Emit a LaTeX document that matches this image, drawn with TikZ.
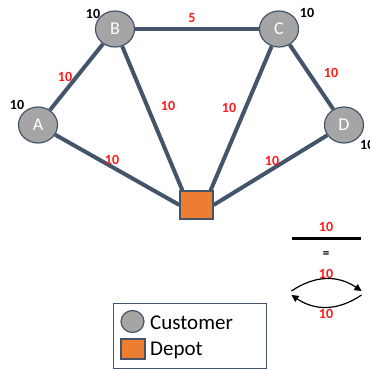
\documentclass[tikz,border=0pt]{standalone}
\usepackage{fontspec}
\setmainfont{Carlito}
\usetikzlibrary{shapes.geometric,arrows.meta}
\definecolor{edgec}{HTML}{44546A}
\definecolor{custc}{HTML}{A5A5A5}
\definecolor{depc}{HTML}{ED7D31}
\definecolor{labred}{HTML}{FF1A1A}
\begin{document}
\begin{tikzpicture}[x=1pt,y=-1pt,
 cust/.style={ellipse, draw=edgec, line width=1.2pt, fill=custc, minimum width=39pt, minimum height=36pt, inner sep=0pt, text=white, font=\fontsize{18}{18}\selectfont},
 dep/.style={rectangle, draw=edgec, line width=1.2pt, fill=depc, minimum width=33pt, minimum height=28pt, inner sep=0pt},
 road/.style={draw=edgec, line width=4pt},
 dem/.style={font=\bfseries\fontsize{14}{14}\selectfont, text=black, inner sep=0pt},
 cost/.style={font=\bfseries\fontsize{14}{14}\selectfont, text=labred, inner sep=0pt},
 legtext/.style={font=\fontsize{21}{21}\selectfont, anchor=west, inner sep=0pt},
 arc/.style={draw=black, line width=1.2pt, -{Triangle[length=7pt,width=7pt]}},
]
\useasboundingbox (0,0) rectangle (369,369);
% nodes
\node[cust] (A) at (38,125) {A};
\node[cust] (B) at (115,29) {B};
\node[cust] (C) at (279,29) {C};
\node[cust] (D) at (344,125) {D};
\node[dep] (S) at (196.5,205) {};
% roads
\draw[road] (A) -- (B);
\draw[road] (B) -- (C);
\draw[road] (C) -- (D);
\draw[road] (A) -- (S.west);
\draw[road] (B) -- ([xshift=3pt]S.north west);
\draw[road] (C) -- ([xshift=-3pt]S.north east);
\draw[road] (D) -- (S.east);
% demands
\node[dem] (dA) at (17,105) {10};
\node[dem] (dB) at (93,14) {10};
\node[dem] (dC) at (307,13) {10};
\node[dem, anchor=west] (dD) at (360,145) {10};
% costs
\node[cost] (cBC) at (192,18) {5};
\node[cost] (cAB) at (65,77) {10};
\node[cost] (cBS) at (168,106) {10};
\node[cost] (cCS) at (229,108) {10};
\node[cost] (cCD) at (331,73) {10};
\node[cost] (cAS) at (112,160) {10};
\node[cost] (cDS) at (272,161) {10};
% equivalence legend
\node[cost] (e1) at (326,227) {10};
\coordinate (barL) at (292,238);
\coordinate (barR) at (361,238);
\draw[line width=3pt] (barL) -- (barR);
\node[font=\bfseries\fontsize{13}{13}\selectfont, inner sep=0pt] (eq) at (326,255) {=};
\node[cost] (e2) at (326,274) {10};
\coordinate (uL) at (291.5,291);
\coordinate (uR) at (361.5,291);
\coordinate (lR) at (361.5,295);
\coordinate (lL) at (291.5,295);
\draw[arc] (uL) .. controls (315,275) and (338,275) .. (uR);
\draw[arc] (lR) .. controls (338,311) and (315,311) .. (lL);
\node[cost] (e3) at (326,314) {10};
% legend box
\node[draw=edgec, line width=1pt, minimum width=153pt, minimum height=65pt, inner sep=0pt] (leg) at (189.5,335.5) {};
\node[ellipse, draw=edgec, line width=1.2pt, fill=custc, minimum width=23pt, minimum height=22pt, inner sep=0pt] (lc) at (132.5,321.5) {};
\node[legtext] (lct) at (150,323) {Customer};
\node[rectangle, draw=edgec, line width=1.2pt, fill=depc, minimum width=24pt, minimum height=20pt, inner sep=0pt] (ld) at (133,349) {};
\node[legtext] (ldt) at (150,350) {Depot};
\end{tikzpicture}
\end{document}
